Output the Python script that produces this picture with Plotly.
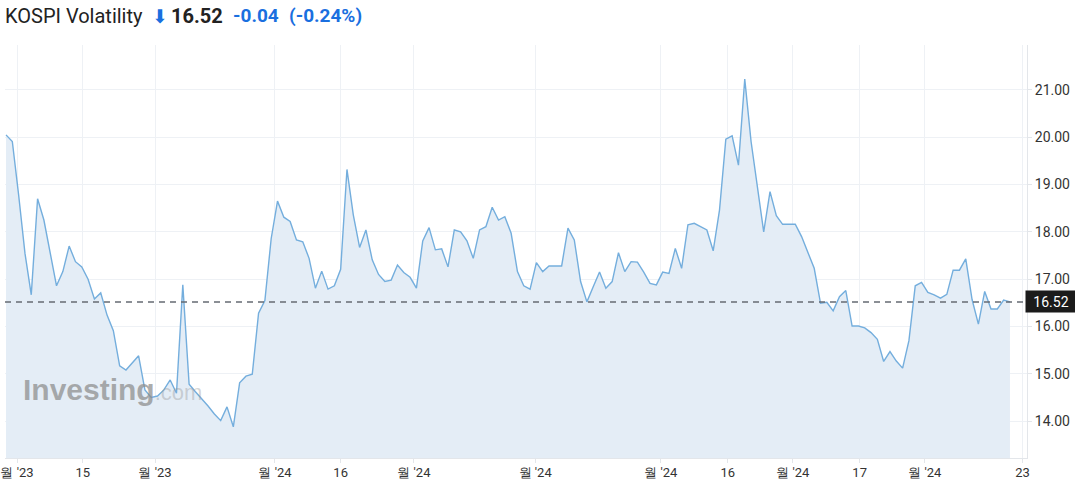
import plotly.graph_objects as go

# ---- data ----
values = [20.05, 19.91, 18.78, 17.55, 16.67, 18.70, 18.25, 17.58, 16.86, 17.16,
          17.70, 17.37, 17.26, 17.00, 16.58, 16.71, 16.24, 15.91, 15.17, 15.08,
          15.23, 15.38, 14.66, 14.50, 14.53, 14.66, 14.87, 14.59, 16.88, 14.78,
          14.62, 14.48, 14.32, 14.15, 14.01, 14.30, 13.88, 14.81, 14.95, 14.99,
          16.28, 16.55, 17.86, 18.65, 18.31, 18.22, 17.83, 17.79, 17.44, 16.81,
          17.17, 16.79, 16.86, 17.21, 19.32, 18.36, 17.67, 18.04, 17.41, 17.10,
          16.95, 16.98, 17.30, 17.14, 17.04, 16.81, 17.81, 18.09, 17.62, 17.64,
          17.26, 18.04, 18.00, 17.81, 17.44, 18.04, 18.11, 18.52, 18.25, 18.32,
          17.97, 17.16, 16.86, 16.79, 17.35, 17.16, 17.28, 17.28, 17.28, 18.08,
          17.83, 16.95, 16.52, 16.84, 17.15, 16.81, 16.95, 17.56, 17.16, 17.37,
          17.36, 17.15, 16.91, 16.88, 17.15, 17.12, 17.65, 17.23, 18.15, 18.18,
          18.11, 18.04, 17.60, 18.46, 19.96, 20.03, 19.41, 21.23, 19.91, 18.96,
          18.00, 18.85, 18.34, 18.16, 18.16, 18.16, 17.90, 17.55, 17.23, 16.49,
          16.51, 16.33, 16.63, 16.76, 16.01, 16.01, 15.97, 15.87, 15.73, 15.26,
          15.47, 15.27, 15.12, 15.70, 16.86, 16.93, 16.72, 16.67, 16.60, 16.68,
          17.19, 17.19, 17.43, 16.57, 16.05, 16.74, 16.37, 16.37, 16.56, 16.52]
sessions = list(range(len(values)))

x_tick_pos = [1.74, 12.15, 23.6, 42.6, 53.0, 64.6, 83.8, 103.7, 114.3, 124.6, 135.2, 145.5, 161.0]
x_tick_labels = ["월 '23", "15", "월 '23", "월 '24", "16", "월 '24", "월 '24",
                 "월 '24", "16", "월 '24", "17", "월 '24", "23"]
y_tick_vals = [14, 15, 16, 17, 18, 19, 20, 21]

title_name = "KOSPI Volatility"
last = values[-1]
prev = values[-2]
chg = last - prev
pct = chg / prev * 100

LINE = "#74aedd"
FILL = "#e4edf6"
BLUE = "#1a6fdf"
GRID = "#eef1f5"
W, H = 1075, 488
ML, MR, MT, MB = 5, 48, 45, 30
PW = W - ML - MR
PH = H - MT - MB


def px_x(p):
    return (p - ML) / PW


def px_y(p):
    return (H - MB - p) / PH


fig = go.Figure()
fig.add_trace(go.Scatter(
    x=sessions, y=values, mode="lines",
    line=dict(color=LINE, width=1.4),
    fill="tozeroy", fillcolor=FILL,
    hoverinfo="skip", showlegend=False,
))

fig.add_hline(y=last, line=dict(color="#666b73", width=1.5, dash="6px,5px"), layer="above")

fig.update_layout(
    width=W, height=H,
    margin=dict(l=ML, r=MR, t=MT, b=MB, autoexpand=False),
    paper_bgcolor="white", plot_bgcolor="white",
    font=dict(family="Roboto, Arial, sans-serif", color="#333333"),
    xaxis=dict(
        range=[-0.16, 161.7],
        tickmode="array", tickvals=x_tick_pos, ticktext=x_tick_labels,
        tickfont=dict(size=13, color="#333333"),
        showgrid=True, gridcolor=GRID, gridwidth=1,
        ticks="outside", ticklen=4, tickcolor="#e3e6ea",
        ticklabelstandoff=-2,
        showline=True, linecolor="#e3e6ea", zeroline=False,
    ),
    yaxis=dict(
        range=[13.22, 21.95], side="right",
        tickmode="array", tickvals=y_tick_vals, tickformat=".2f",
        tickfont=dict(size=14, color="#333333"),
        showgrid=True, gridcolor=GRID, gridwidth=1,
        ticks="outside", ticklen=4, tickcolor="#e3e6ea",
        showline=True, linecolor="#e3e6ea", zeroline=False,
    ),
)

# last-value label on the right axis
fig.add_annotation(
    xref="paper", yref="y", x=1.0, y=last, xanchor="left", yanchor="middle",
    xshift=-2,
    text=f"{last:.2f}", showarrow=False,
    font=dict(size=14, color="white"),
    bgcolor="#1b1b1b", borderpad=2, width=46, height=17, align="center",
)

# watermark
fig.add_annotation(
    xref="paper", yref="paper", x=px_x(21), y=px_y(389), xanchor="left", yanchor="middle",
    text="<b>Investing</b><span style='font-size:22px;color:rgba(150,150,150,0.55)'>.com</span>",
    showarrow=False,
    font=dict(size=30, color="rgba(140,140,140,0.72)", family="Arial, Liberation Sans, sans-serif"),
)

# header
hy = 1 + (MT - 16) / PH
fig.add_annotation(xref="paper", yref="paper", x=px_x(3), y=hy, xanchor="left", yanchor="middle",
                   text=title_name, showarrow=False, font=dict(size=20, color="#222222"))
fig.add_annotation(xref="paper", yref="paper", x=px_x(150), y=hy, xanchor="left", yanchor="middle",
                   text="⬇", showarrow=False,
                   font=dict(size=19, color=BLUE, family="DejaVu Sans"))
fig.add_annotation(xref="paper", yref="paper", x=px_x(169), y=hy, xanchor="left", yanchor="middle",
                   text=f"<b>{last:.2f}</b>", showarrow=False, font=dict(size=20, color="#222222"))
fig.add_annotation(xref="paper", yref="paper", x=px_x(231), y=hy, xanchor="left", yanchor="middle",
                   text=f"<b>{chg:+.2f}</b>".replace("+", ""), showarrow=False,
                   font=dict(size=19, color=BLUE))
fig.add_annotation(xref="paper", yref="paper", x=px_x(287), y=hy, xanchor="left", yanchor="middle",
                   text=f"<b>({pct:.2f}%)</b>", showarrow=False,
                   font=dict(size=19, color=BLUE))

fig.write_html(
    "out.html",
    config={"displayModeBar": False},
    post_script="document.body.style.margin='0';document.body.style.overflow='hidden';",
)
